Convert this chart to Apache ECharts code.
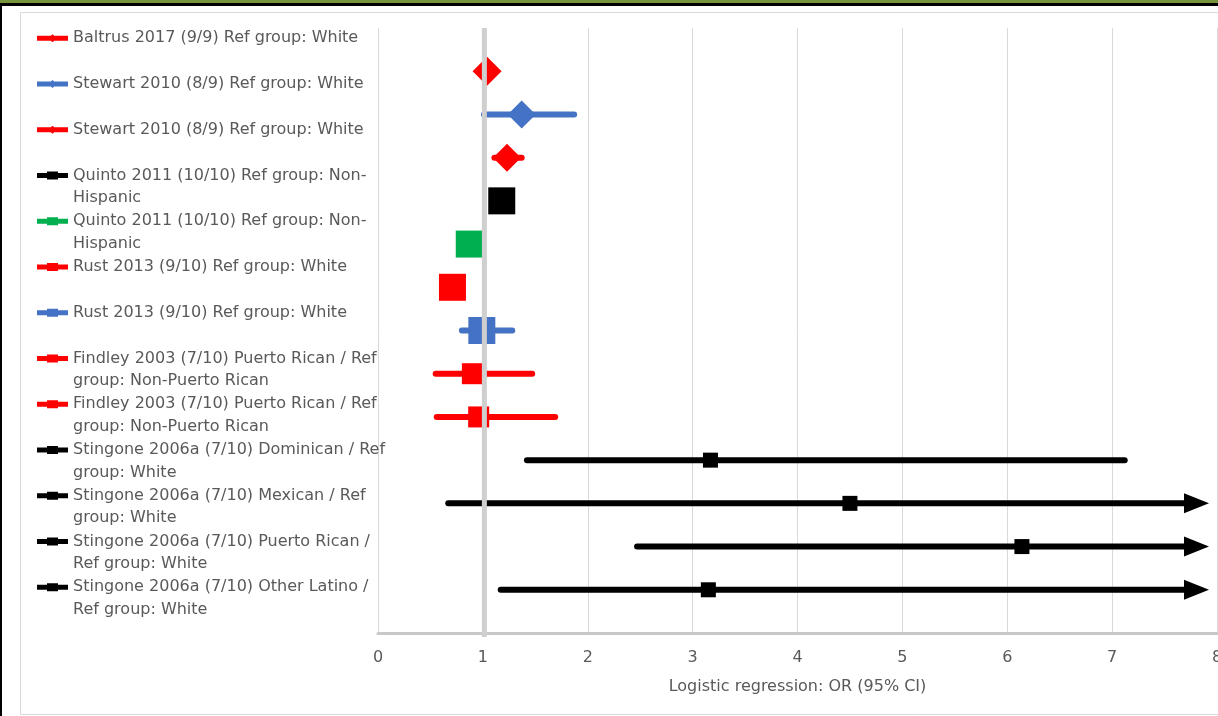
<!DOCTYPE html>
<html>
<head>
<meta charset="utf-8">
<title>Forest plot</title>
<script src="https://cdn.jsdelivr.net/npm/echarts@6/dist/echarts.min.js"></script>
<style>
  html, body { margin: 0; padding: 0; background: #ffffff; overflow: hidden; }
  #chart { width: 1218px; height: 716px; }
</style>
</head>
<body>
<div id="chart"></div>
<script>
// ---- Study data -------------------------------------------------------------
const studyLabels = [
  'Baltrus 2017 (9/9) Ref group: White',
  'Stewart 2010 (8/9) Ref group: White',
  'Stewart 2010 (8/9) Ref group: White',
  'Quinto 2011 (10/10) Ref group: Non-\nHispanic',
  'Quinto 2011 (10/10) Ref group: Non-\nHispanic',
  'Rust 2013 (9/10) Ref group: White',
  'Rust 2013 (9/10) Ref group: White',
  'Findley 2003 (7/10) Puerto Rican / Ref\ngroup: Non-Puerto Rican',
  'Findley 2003 (7/10) Puerto Rican / Ref\ngroup: Non-Puerto Rican',
  'Stingone 2006a (7/10) Dominican / Ref\ngroup: White',
  'Stingone 2006a (7/10) Mexican / Ref\ngroup: White',
  'Stingone 2006a (7/10) Puerto Rican /\nRef group: White',
  'Stingone 2006a (7/10) Other Latino /\nRef group: White'
];

// Odds ratios and 95% confidence limits (null = interval hidden by the marker,
// Infinity = upper limit runs past the end of the axis)
const oddsRatio = [1.04, 1.37, 1.23, 1.18, 0.87, 0.71, 0.99, 0.90, 0.96, 3.17, 4.50, 6.14, 3.15];
const ciLower   = [null, 1.01, 1.11, null, null, null, 0.80, 0.55, 0.56, 1.42, 0.67, 2.47, 1.17];
const ciUpper   = [null, 1.87, 1.37, null, null, null, 1.28, 1.47, 1.69, 7.12, Infinity, Infinity, Infinity];

const xTickValues = [0, 1, 2, 3, 4, 5, 6, 7, 8];
const referenceOR = 1;
const axisTitle = 'Logistic regression: OR (95% CI)';

// ---- Appearance ---------------------------------------------------------------
const RED = '#FF0000', BLUE = '#4472C4', BLACK = '#000000', GREEN = '#00B050';
const studyStyles = [
  { color: RED,   shape: 'diamond', size: 29 },
  { color: BLUE,  shape: 'diamond', size: 28 },
  { color: RED,   shape: 'diamond', size: 28 },
  { color: BLACK, shape: 'square',  size: 27 },
  { color: GREEN, shape: 'square',  size: 27 },
  { color: RED,   shape: 'square',  size: 27 },
  { color: BLUE,  shape: 'square',  size: 27 },
  { color: RED,   shape: 'square',  size: 21 },
  { color: RED,   shape: 'square',  size: 21 },
  { color: BLACK, shape: 'square',  size: 15 },
  { color: BLACK, shape: 'square',  size: 15 },
  { color: BLACK, shape: 'square',  size: 15 },
  { color: BLACK, shape: 'square',  size: 15 }
];
const FONT = 'DejaVu Sans';
const TEXT_GREY = '#595959';
const CI_WIDTH = 6;
const ARROW_LEN = 25, ARROW_HALF = 10, ARROW_INSET = 8;

const xMin = xTickValues[0];
const xMax = xTickValues[xTickValues.length - 1];
const rowCount = studyLabels.length;

// Series names must be unique for the legend; the drawn text comes from studyLabels.
const seriesNames = studyLabels.map((l, i) => 'study' + (i + 1));
const legendText = {};
seriesNames.forEach((n, i) => {
  const t = studyLabels[i];
  legendText[n] = t.indexOf('\n') >= 0 ? t : t + '\n ';
});

// Legend glyph: a short thick line with a small marker, placed on the first text line.
function legendIcon(shape) {
  const box = 'M0,0 M31,45 ';
  const line = 'M0,8.75 L31,8.75 L31,13.75 L0,13.75 Z ';
  const mark = shape === 'diamond'
    ? 'M15.5,7.25 L20,11.25 L15.5,15.25 L11,11.25 Z'
    : 'M10,7.25 L21,7.25 L21,15.25 L10,15.25 Z';
  return 'path://' + box + line + mark;
}

function makeRenderer(i) {
  const st = studyStyles[i];
  return function (params, api) {
    const y = api.value(3);
    const est = api.value(2);
    const children = [];
    if (ciLower[i] != null) {
      const p0 = api.coord([api.value(0), y]);
      const p1 = api.coord([api.value(1), y]);
      const beyond = api.value(4) === 1;
      if (beyond) {
        const tip = p1[0] - ARROW_INSET;
        children.push({
          type: 'line',
          shape: { x1: p0[0], y1: p0[1], x2: tip - ARROW_LEN / 2, y2: p0[1] },
          style: { stroke: st.color, lineWidth: CI_WIDTH, lineCap: 'round' }
        });
        children.push({
          type: 'polygon',
          shape: { points: [[tip, p0[1]], [tip - ARROW_LEN, p0[1] - ARROW_HALF], [tip - ARROW_LEN, p0[1] + ARROW_HALF]] },
          style: { fill: st.color }
        });
      } else {
        children.push({
          type: 'line',
          shape: { x1: p0[0], y1: p0[1], x2: p1[0], y2: p1[1] },
          style: { stroke: st.color, lineWidth: CI_WIDTH, lineCap: 'round' }
        });
      }
    }
    const c = api.coord([est, y]);
    const h = st.size / 2;
    if (st.shape === 'diamond') {
      children.push({
        type: 'polygon',
        shape: { points: [[c[0], c[1] - h], [c[0] + h, c[1]], [c[0], c[1] + h], [c[0] - h, c[1]]] },
        style: { fill: st.color }
      });
    } else {
      children.push({
        type: 'rect',
        shape: { x: c[0] - h, y: c[1] - h, width: st.size, height: st.size },
        style: { fill: st.color }
      });
    }
    return { type: 'group', children: children };
  };
}

const studySeries = studyLabels.map((label, i) => {
  const hi = ciUpper[i];
  const beyond = hi != null && hi > xMax ? 1 : 0;
  return {
    name: seriesNames[i],
    type: 'custom',
    coordinateSystem: 'cartesian2d',
    itemStyle: { color: studyStyles[i].color },
    encode: { x: [0, 1, 2], y: 3 },
    data: [[ciLower[i], hi == null ? null : Math.min(hi, xMax), oddsRatio[i], rowCount - i, beyond]],
    renderItem: makeRenderer(i),
    z: 2,
    silent: true
  };
});

// Vertical line of no effect (OR = 1), drawn over the study markers
const referenceSeries = {
  name: 'reference',
  type: 'custom',
  coordinateSystem: 'cartesian2d',
  encode: { x: 0 },
  data: [[referenceOR]],
  z: 4,
  silent: true,
  renderItem: function (params, api) {
    const top = api.coord([api.value(0), rowCount + 1]);
    const bottom = api.coord([api.value(0), 0]);
    return {
      type: 'line',
      shape: { x1: top[0] + 1.5, y1: top[1], x2: bottom[0] + 1.5, y2: bottom[1] + 4 },
      style: { stroke: '#cfcfcf', lineWidth: 5 }
    };
  }
};

const chart = echarts.init(document.getElementById('chart'), null, { renderer: 'canvas' });
chart.setOption({
  animation: false,
  backgroundColor: '#ffffff',
  textStyle: { fontFamily: FONT },
  graphic: [
    { type: 'rect', z: -10, silent: true, shape: { x: 0, y: 0, width: 1218, height: 3 }, style: { fill: '#77933C' } },
    { type: 'rect', z: -10, silent: true, shape: { x: 0, y: 3, width: 1218, height: 3 }, style: { fill: '#000000' } },
    { type: 'rect', z: -10, silent: true, shape: { x: 0, y: 3, width: 2, height: 713 }, style: { fill: '#000000' } },
    { type: 'rect', z: -10, silent: true, shape: { x: 20.5, y: 12.5, width: 1220, height: 702 }, style: { fill: 'none', stroke: '#d9d9d9', lineWidth: 1 } }
  ],
  grid: { left: 378, right: 1, top: 28, bottom: 83, containLabel: false, outerBoundsMode: 'none' },
  xAxis: {
    type: 'value',
    min: xMin,
    max: xMax,
    interval: 1,
    name: axisTitle,
    nameLocation: 'middle',
    nameGap: 46,
    nameTextStyle: { color: TEXT_GREY, fontSize: 16, fontFamily: FONT },
    axisLine: { show: true, lineStyle: { color: '#c8c8c8', width: 3 } },
    axisTick: { show: false },
    axisLabel: { color: TEXT_GREY, fontSize: 16, fontFamily: FONT, margin: 17, showMaxLabel: true, hideOverlap: false },
    splitLine: { show: true, lineStyle: { color: '#d9d9d9', width: 1 } }
  },
  yAxis: {
    type: 'value',
    min: 0,
    max: rowCount + 1,
    show: false,
    splitLine: { show: false }
  },
  legend: {
    orient: 'vertical',
    left: 37,
    top: 27,
    padding: 0,
    itemGap: 0.75,
    itemWidth: 31,
    itemHeight: 45,
    selectedMode: false,
    itemStyle: { borderWidth: 0 },
    textStyle: { color: TEXT_GREY, fontFamily: FONT, fontSize: 16, lineHeight: 22.5 },
    formatter: function (name) { return legendText[name]; },
    data: seriesNames.map((n, i) => ({ name: n, icon: legendIcon(studyStyles[i].shape) }))
  },
  series: studySeries.concat([referenceSeries])
});
</script>
</body>
</html>
